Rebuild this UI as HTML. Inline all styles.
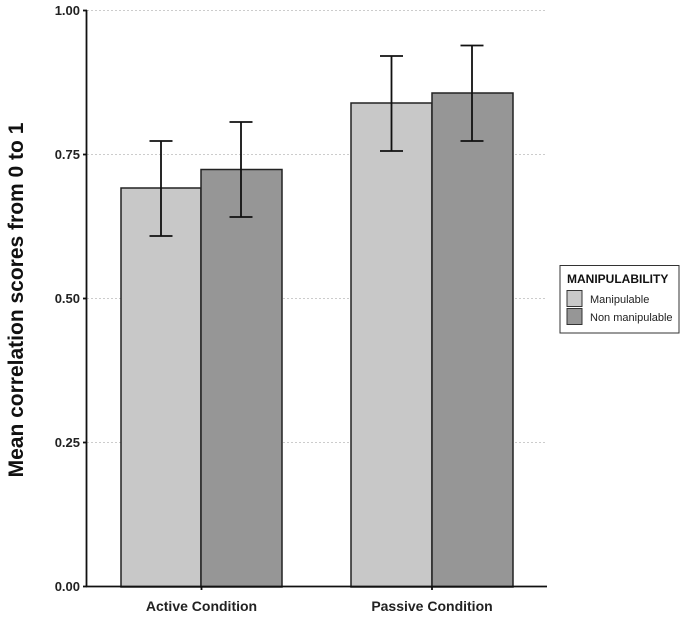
<!DOCTYPE html>
<html><head><style>body{margin:0;background:#fff}</style></head><body>
<svg width="685" height="618" xmlns="http://www.w3.org/2000/svg" font-family="Liberation Sans, Arial, sans-serif">
<g stroke="#ccc" stroke-width="1" stroke-dasharray="2,2">
<line x1="87" y1="10.5" x2="547" y2="10.5"/>
<line x1="87" y1="154.5" x2="547" y2="154.5"/>
<line x1="87" y1="298.5" x2="547" y2="298.5"/>
<line x1="87" y1="442.5" x2="547" y2="442.5"/>
</g>
<g stroke="#222" stroke-width="1.5">
<rect x="121" y="188" width="80" height="399" fill="#c8c8c8"/>
<rect x="201" y="169.5" width="81" height="417.5" fill="#969696"/>
<rect x="351" y="103" width="81" height="484" fill="#c8c8c8"/>
<rect x="432" y="93" width="81" height="494" fill="#969696"/>
</g>
<g stroke="#111" stroke-width="1.8" fill="none">
<path d="M161 141V236M149.5 141H172.5M149.5 236H172.5"/>
<path d="M241 122V217M229.5 122H252.5M229.5 217H252.5"/>
<path d="M391.5 56V151M380 56H403M380 151H403"/>
<path d="M472 45.5V141M460.5 45.5H483.5M460.5 141H483.5"/>
</g>
<g stroke="#111" stroke-width="1.8">
<line x1="86.5" y1="10" x2="86.5" y2="587"/>
<line x1="86" y1="586.5" x2="547" y2="586.5"/>
<line x1="83" y1="10.5" x2="87" y2="10.5"/>
<line x1="83" y1="154.5" x2="87" y2="154.5"/>
<line x1="83" y1="298.5" x2="87" y2="298.5"/>
<line x1="83" y1="442.5" x2="87" y2="442.5"/>
<line x1="83" y1="586.5" x2="87" y2="586.5"/>
<line x1="201.5" y1="586" x2="201.5" y2="590"/>
<line x1="432" y1="586" x2="432" y2="590"/>
</g>
<g font-size="13" font-weight="bold" fill="#222" text-anchor="end">
<text x="80" y="15">1.00</text>
<text x="80" y="159">0.75</text>
<text x="80" y="303">0.50</text>
<text x="80" y="447">0.25</text>
<text x="80" y="591">0.00</text>
</g>
<g font-size="14" font-weight="bold" fill="#222" text-anchor="middle">
<text x="201.5" y="611">Active Condition</text>
<text x="432" y="611">Passive Condition</text>
</g>
<text transform="translate(23,300) rotate(-90)" font-size="21" font-weight="bold" fill="#111" text-anchor="middle">Mean correlation scores from 0 to 1</text>
<rect x="560" y="265.5" width="119" height="67.5" fill="#fff" stroke="#333" stroke-width="1"/>
<text x="567" y="283" font-size="12" font-weight="bold" fill="#111">MANIPULABILITY</text>
<rect x="567" y="290.5" width="15" height="16" fill="#c8c8c8" stroke="#333" stroke-width="1"/>
<rect x="567" y="308.5" width="15" height="16" fill="#969696" stroke="#333" stroke-width="1"/>
<text x="590" y="303" font-size="11" fill="#222">Manipulable</text>
<text x="590" y="321" font-size="11" fill="#222">Non manipulable</text>
</svg>
</body></html>
